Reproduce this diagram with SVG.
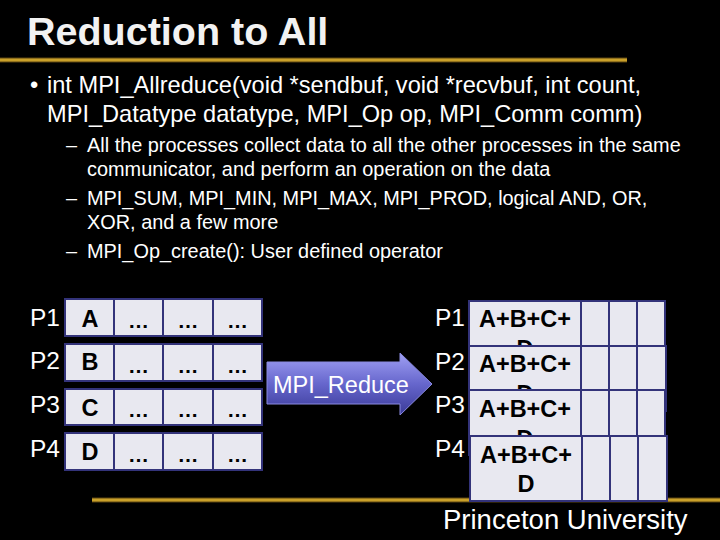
<svg xmlns="http://www.w3.org/2000/svg" width="720" height="540" viewBox="0 0 720 540">
  <defs>
    <linearGradient id="arrowGrad" x1="0" y1="0" x2="0" y2="1">
      <stop offset="0" stop-color="#a0a0f4"/>
      <stop offset="0.5" stop-color="#6666cc"/>
      <stop offset="1" stop-color="#3a3a98"/>
    </linearGradient>
    <style>
      .txt { font-family: "Liberation Sans", Arial, sans-serif; fill: #ffffff; }
      .title { font-size: 39.5px; font-weight: bold; fill: #f2f2f2; }
      .b1 { font-size: 23.6px; }
      .b2 { font-size: 19.9px; }
      .lbl { font-size: 24.5px; }
      .cell { fill: #e8e8f0; stroke: #33337a; stroke-width: 2; }
      .div { stroke: #33337a; stroke-width: 2; }
      .ct { font-family: "Liberation Sans", Arial, sans-serif; font-weight: bold; fill: #000000; text-anchor: middle; font-size: 23.5px; }
      .dots { font-size: 21px; }
      .gold { stroke: #c9a02a; stroke-width: 3; }
      .goldedge { stroke: #5a4410; stroke-width: 5; }
    </style>
  </defs>
  <rect x="0" y="0" width="720" height="540" fill="#000000"/>

  <g id="header">
    <text class="txt title" x="27" y="45">Reduction to All</text>
    <line class="goldedge" x1="0" y1="60" x2="627" y2="60"/>
    <line class="gold" x1="0" y1="60" x2="627" y2="60"/>
  </g>

  <g id="bullets">
    <text class="txt b1" x="30" y="93">•</text>
    <text class="txt b1" x="47" y="93">int MPI_Allreduce(void *sendbuf, void *recvbuf, int count,</text>
    <text class="txt b1" x="47" y="122">MPI_Datatype datatype, MPI_Op op, MPI_Comm comm)</text>
    <text class="txt b2" x="66" y="152">–</text>
    <text class="txt b2" x="87" y="152">All the processes collect data to all the other processes in the same</text>
    <text class="txt b2" x="87" y="176">communicator, and perform an operation on the data</text>
    <text class="txt b2" x="66" y="205">–</text>
    <text class="txt b2" x="87" y="205">MPI_SUM, MPI_MIN, MPI_MAX, MPI_PROD, logical AND, OR,</text>
    <text class="txt b2" x="87" y="229">XOR, and a few more</text>
    <text class="txt b2" x="66" y="258">–</text>
    <text class="txt b2" x="87" y="258">MPI_Op_create(): User defined operator</text>
  </g>

  <g id="footer">
    <line class="goldedge" x1="92" y1="500" x2="720" y2="500"/>
    <line class="gold" x1="92" y1="500" x2="720" y2="500"/>
    <text class="txt" x="443" y="529" font-size="27.5">Princeton University</text>
  </g>

  <g id="send-P1">
    <text class="txt lbl" x="30" y="326">P1</text>
    <rect class="cell" x="65" y="299" width="197" height="37"/>
    <line class="div" x1="114" y1="299" x2="114" y2="336"/>
    <line class="div" x1="163" y1="299" x2="163" y2="336"/>
    <line class="div" x1="213" y1="299" x2="213" y2="336"/>
    <text class="ct" x="90" y="327">A</text>
    <text class="ct dots" x="138.5" y="328">…</text>
    <text class="ct dots" x="188" y="328">…</text>
    <text class="ct dots" x="237.5" y="328">…</text>
  </g>
  <g id="send-P2">
    <text class="txt lbl" x="30" y="369">P2</text>
    <rect class="cell" x="65" y="344" width="197" height="37"/>
    <line class="div" x1="114" y1="344" x2="114" y2="381"/>
    <line class="div" x1="163" y1="344" x2="163" y2="381"/>
    <line class="div" x1="213" y1="344" x2="213" y2="381"/>
    <text class="ct" x="90" y="370">B</text>
    <text class="ct dots" x="138.5" y="373">…</text>
    <text class="ct dots" x="188" y="373">…</text>
    <text class="ct dots" x="237.5" y="373">…</text>
  </g>
  <g id="send-P3">
    <text class="txt lbl" x="30" y="413">P3</text>
    <rect class="cell" x="65" y="389" width="197" height="36"/>
    <line class="div" x1="114" y1="389" x2="114" y2="425"/>
    <line class="div" x1="163" y1="389" x2="163" y2="425"/>
    <line class="div" x1="213" y1="389" x2="213" y2="425"/>
    <text class="ct" x="90" y="416">C</text>
    <text class="ct dots" x="138.5" y="417">…</text>
    <text class="ct dots" x="188" y="417">…</text>
    <text class="ct dots" x="237.5" y="417">…</text>
  </g>
  <g id="send-P4">
    <text class="txt lbl" x="30" y="457">P4</text>
    <rect class="cell" x="65" y="433" width="197" height="37"/>
    <line class="div" x1="114" y1="433" x2="114" y2="470"/>
    <line class="div" x1="163" y1="433" x2="163" y2="470"/>
    <line class="div" x1="213" y1="433" x2="213" y2="470"/>
    <text class="ct" x="90" y="460">D</text>
    <text class="ct dots" x="138.5" y="462">…</text>
    <text class="ct dots" x="188" y="462">…</text>
    <text class="ct dots" x="237.5" y="462">…</text>
  </g>

  <g id="connectors">
    <g id="arrow-mpi-reduce">
      <path d="M267,362 L400,362 L400,353 L432,384 L400,415 L400,404 L267,404 Z" fill="url(#arrowGrad)" stroke="#8a8ae0" stroke-width="1"/>
      <text class="txt" x="273" y="393" font-size="23.5">MPI_Reduce</text>
    </g>
  </g>

  <g id="recv-P1">
    <text class="txt lbl" x="435" y="326">P1</text>
    <rect class="cell" x="469" y="301" width="196" height="65"/>
    <line class="div" x1="581" y1="301" x2="581" y2="366"/>
    <line class="div" x1="609" y1="301" x2="609" y2="366"/>
    <line class="div" x1="637" y1="301" x2="637" y2="366"/>
    <text class="ct" x="525" y="327">A+B+C+</text>
    <text class="ct" x="525" y="357">D</text>
  </g>
  <g id="recv-P2">
    <text class="txt lbl" x="435" y="370">P2</text>
    <rect class="cell" x="469" y="346" width="197" height="65"/>
    <line class="div" x1="581" y1="346" x2="581" y2="411"/>
    <line class="div" x1="609" y1="346" x2="609" y2="411"/>
    <line class="div" x1="637" y1="346" x2="637" y2="411"/>
    <text class="ct" x="525" y="372">A+B+C+</text>
    <text class="ct" x="525" y="402">D</text>
  </g>
  <g id="recv-P3">
    <text class="txt lbl" x="435" y="413">P3</text>
    <rect class="cell" x="469" y="390" width="196" height="65"/>
    <line class="div" x1="581" y1="390" x2="581" y2="455"/>
    <line class="div" x1="609" y1="390" x2="609" y2="455"/>
    <line class="div" x1="637" y1="390" x2="637" y2="455"/>
    <text class="ct" x="525" y="417">A+B+C+</text>
    <text class="ct" x="525" y="447">D</text>
  </g>
  <g id="recv-P4">
    <text class="txt lbl" x="435" y="457">P4</text>
    <rect class="cell" x="470" y="436" width="197" height="65"/>
    <line class="div" x1="582" y1="436" x2="582" y2="501"/>
    <line class="div" x1="610" y1="436" x2="610" y2="501"/>
    <line class="div" x1="638" y1="436" x2="638" y2="501"/>
    <text class="ct" x="526" y="463">A+B+C+</text>
    <text class="ct" x="526" y="492">D</text>
  </g>
</svg>
